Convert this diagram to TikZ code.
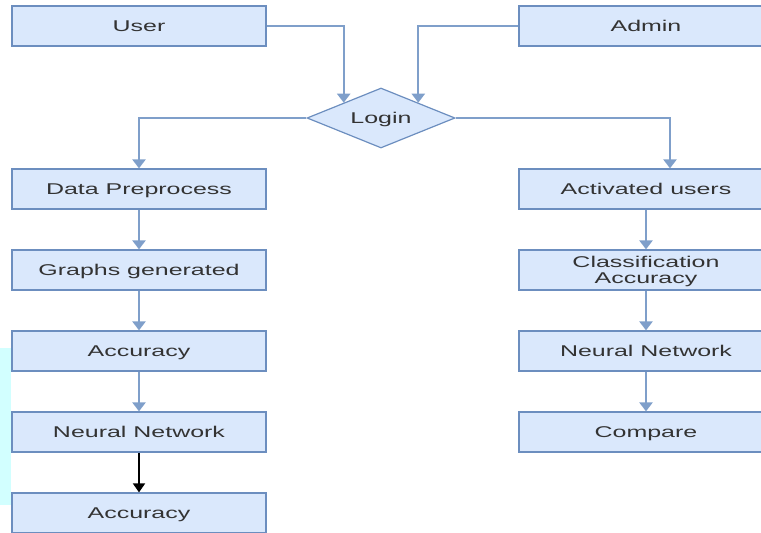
\documentclass[tikz,border=0pt]{standalone}
\usepackage{fontspec}
\setmainfont{Liberation Sans}[FakeStretch=1.6]
\usetikzlibrary{arrows.meta,shapes.geometric,calc}
\definecolor{boxfill}{HTML}{DAE8FC}
\definecolor{boxline}{HTML}{6C8EBF}
\definecolor{arrowc}{HTML}{7F9FCA}
\definecolor{txt}{HTML}{333333}
\definecolor{cyanstrip}{HTML}{D2FFFF}
\tikzset{
  stepbox/.style={draw=boxline, fill=boxfill, line width=1.2pt, minimum width=254pt, minimum height=40pt, inner sep=0pt, text=txt, font=\fontsize{15.6}{15.5}\selectfont, align=center, text depth=0pt},
  decision/.style={shape=diamond, draw=boxline, fill=boxfill, line width=1.2pt, minimum width=148pt, minimum height=60pt, inner sep=0pt, aspect=2.47, text=txt, font=\fontsize{15.6}{15.5}\selectfont, text depth=0pt},
  flow/.style={draw=arrowc, line width=2.3pt, -{Triangle[width=13pt,length=9pt]}},
  blackflow/.style={draw=black, line width=1.8pt, -{Triangle[width=12pt,length=9pt]}}
}
\begin{document}
\begin{tikzpicture}[x=1pt,y=-1pt]
\useasboundingbox (0,0) rectangle (761,533);
\clip (0,0) rectangle (761,533);
\fill[cyanstrip] (0,348) rectangle (11,505);
% left column
\node[stepbox] (user) at (139,26) {User};
\node[stepbox] (dp) at (139,189) {Data Preprocess};
\node[stepbox] (gg) at (139,270) {Graphs generated};
\node[stepbox] (acc1) at (139,351) {Accuracy};
\node[stepbox] (nn1) at (139,432) {Neural Network};
\node[stepbox] (acc2) at (139,513) {Accuracy};
% right column
\node[stepbox] (admin) at (646,26) {Admin};
\node[stepbox] (au) at (646,189) {Activated users};
\node[stepbox] (ca) at (646,270) {Classification\\Accuracy};
\node[stepbox] (nn2) at (646,351) {Neural Network};
\node[stepbox] (cmp) at (646,432) {Compare};
% decision
\node[decision] (login) at (381,118) {Login};
% connectors
\draw[flow] (user.east) -| ($(login.west)!0.5!(login.north)$);
\draw[flow] (admin.west) -| ($(login.east)!0.5!(login.north)$);
\draw[flow] (login.west) -| (dp.north);
\draw[flow] (login.east) -| ([xshift=24pt]au.north);
\draw[flow] (dp) -- (gg);
\draw[flow] (gg) -- (acc1);
\draw[flow] (acc1) -- (nn1);
\draw[blackflow] (nn1) -- (acc2);
\draw[flow] (au) -- (ca);
\draw[flow] (ca) -- (nn2);
\draw[flow] (nn2) -- (cmp);
\end{tikzpicture}
\end{document}
